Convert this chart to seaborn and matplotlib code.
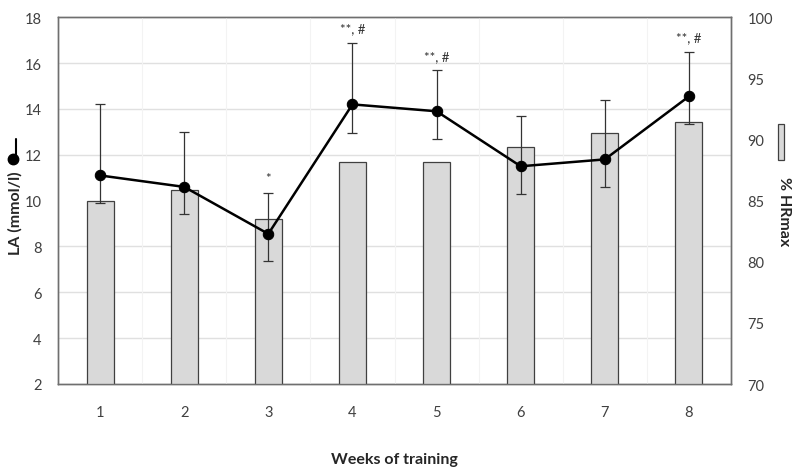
import numpy as np
import pandas as pd
import matplotlib
matplotlib.use("Agg")
import matplotlib.pyplot as plt
from matplotlib.ticker import FixedLocator
from matplotlib.lines import Line2D
from matplotlib.patches import Rectangle
import seaborn as sns

# ---- data ----
weeks = ["1", "2", "3", "4", "5", "6", "7", "8"]
hr_max = [85.0, 85.9, 83.5, 88.2, 88.2, 89.4, 90.5, 91.4]          # % HRmax (bars, right axis)
la = [11.1, 10.6, 8.55, 14.2, 13.9, 11.5, 11.8, 14.55]            # LA mmol/l (line, left axis)
la_err_upper = [3.1, 2.4, 1.8, 2.7, 1.8, 2.2, 2.6, 1.95]
la_err_lower = [1.2, 1.2, 1.2, 1.25, 1.2, 1.2, 1.2, 1.2]
annotations = ["", "", "*", "**, #", "**, #", "", "", "**, #"]
left_ticks = [2, 4, 6, 8, 10, 12, 14, 16, 18]
right_ticks = [70, 75, 80, 85, 90, 95, 100]

df = pd.DataFrame({"week": weeks, "pos": np.arange(len(weeks)), "hr": hr_max, "la": la})

sns.set_style("white")
plt.rcParams["font.family"] = ["Lato", "DejaVu Sans"]

W, H = 798, 477
fig = plt.figure(figsize=(W / 100, H / 100), dpi=100)
ax = fig.add_axes([58 / W, 1 - 385 / H, (731 - 58) / W, (385 - 18.3) / H])
ax2 = ax.twinx()

tc = "#404040"
spine_c = "#6f6f6f"

# ---- bars (right axis) ----
sns.barplot(data=df, x="week", y="hr", ax=ax2, color="#d9d9d9", width=0.32,
            edgecolor="#404040", linewidth=0.9, saturation=1, zorder=3)
for p in ax2.patches:
    p.set_facecolor("#d9d9d9")
ax2.set_ylim(70, 100)
ax2.set_yticks(right_ticks)
ax2.set_xlim(-0.5, len(weeks) - 0.5)
ax2.set_ylabel("")
ax2.set_xlabel("")
# grid aligned with left axis ticks
ax2.yaxis.set_minor_locator(FixedLocator(np.linspace(70, 100, len(left_ticks))))
ax2.grid(which="minor", axis="y", color="#e0e0e0", linewidth=1.0, zorder=0)
ax2.set_axisbelow(True)
ax2.tick_params(axis="y", which="both", length=0, labelsize=10.5, labelcolor=tc, pad=12)

# ---- line (left axis) ----
ax.set_zorder(ax2.get_zorder() + 1)
ax.patch.set_visible(False)
ax.errorbar(df["pos"], df["la"], yerr=[la_err_lower, la_err_upper], fmt="none",
            ecolor="#333333", elinewidth=0.9, capsize=3.5, capthick=0.9, zorder=3)
sns.lineplot(data=df, x="pos", y="la", ax=ax, color="black", linewidth=1.8,
             marker="o", markersize=7.5, markeredgecolor="black", zorder=4)
ax.set_ylim(2, 18)
ax.set_yticks(left_ticks)
ax.set_xlim(-0.5, len(weeks) - 0.5)
ax.set_xticks(df["pos"])
ax.set_xticklabels(weeks)
ax.xaxis.set_minor_locator(FixedLocator(np.arange(-0.5, len(weeks), 1.0)))
ax.tick_params(axis="x", which="major", length=0, labelsize=10.5, labelcolor=tc, pad=15)
ax.tick_params(axis="x", which="minor", length=5, width=1, color=spine_c, direction="out")
ax.tick_params(axis="y", which="both", length=0, labelsize=10.5, labelcolor=tc, pad=12)
ax2.tick_params(axis="x", which="both", length=0, labelbottom=False)
ax.grid(which="minor", axis="x", color="#f3f3f3", linewidth=0.8)
ax.set_ylabel("")
ax.set_xlabel("")

for a in (ax, ax2):
    for s in a.spines.values():
        s.set_visible(True)
        s.set_color(spine_c)
        s.set_linewidth(1.0)

# ---- annotations ----
for x, y, up, t in zip(df["pos"], la, la_err_upper, annotations):
    if t:
        ax.annotate(t, (x, y + up), xytext=(0, 6), textcoords="offset points",
                    ha="center", va="bottom", fontsize=9.5, color="#333333")

# ---- axis labels and legend icons ----
fig.text(15 / W, 1 - 213 / H, "LA (mmol/l)", rotation=90, ha="center", va="center",
         fontsize=11.5, fontweight="bold", color="#262626")
fig.text(784 / W, 1 - 212 / H, "% HRmax", rotation=270, ha="center", va="center",
         fontsize=11.5, fontweight="bold", color="#262626")
fig.text((58 + 731) / 2 / W, 1 - 460 / H, "Weeks of training", ha="center", va="center",
         fontsize=11.5, fontweight="bold", color="#262626")

fig.add_artist(Line2D([16 / W, 16 / W], [1 - 140 / H, 1 - 160 / H], color="black",
                      linewidth=1.5, transform=fig.transFigure))
fig.add_artist(Line2D([13 / W], [1 - 160 / H], marker="o", markersize=7.5, color="black",
                      transform=fig.transFigure))
fig.add_artist(Rectangle((778 / W, 1 - 161 / H), 6 / W, 36 / H, facecolor="#d9d9d9",
                         edgecolor="#404040", linewidth=0.9, transform=fig.transFigure))

fig.savefig("out.png", dpi=100)
